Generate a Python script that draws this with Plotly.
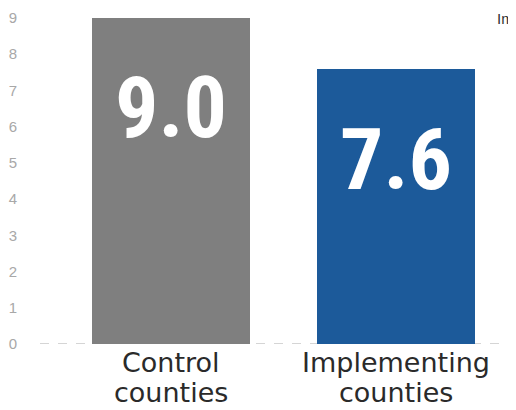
import plotly.graph_objects as go

categories = ["Control counties", "Implementing counties"]
values = [9.0, 7.6]
value_labels = ["9.0", "7.6"]
colors = ["#7f7f7f", "#1c5a9a"]
y_ticks = [0, 1, 2, 3, 4, 5, 6, 7, 8, 9]

xpos = list(range(len(categories)))
label_y = [6.52, 5.1]

fig = go.Figure()
fig.add_trace(go.Bar(
    x=xpos, y=values, width=0.70,
    marker=dict(color=colors, line=dict(width=0)),
    hoverinfo="skip",
))

for x, y, t in zip(xpos, label_y, value_labels):
    fig.add_annotation(x=x, y=y, text="<b>" + t + "</b>", showarrow=False,
                       font=dict(family="Roboto Condensed, DejaVu Sans Condensed, Liberation Sans Narrow, Arial Narrow, sans-serif",
                                 size=86, color="white"),
                       xanchor="center", yanchor="middle")

for x, cat in zip(xpos, categories):
    first, second = cat.split(" ", 1)
    for line, shift in ((first, -18), (second, -48)):
        fig.add_annotation(x=x, xref="x", y=0, yref="paper", text=line, showarrow=False,
                           xanchor="center", yanchor="middle", yshift=shift,
                           font=dict(family="DejaVu Sans", size=27, color="#2a2a2a"))

fig.add_shape(type="line", xref="paper", yref="y", x0=0, x1=1, y0=0, y1=0,
              line=dict(color="#aaaaaa", width=1, dash="dash"), layer="below")

fig.add_annotation(xref="paper", yref="paper", x=1.0, y=1.0, yshift=2, text="Im",
                   showarrow=False, xanchor="right", yanchor="top",
                   font=dict(family="Liberation Sans", size=15, color="#333333"))

fig.update_layout(
    width=508, height=402,
    margin=dict(l=32, r=0, t=2, b=66),
    paper_bgcolor="white", plot_bgcolor="white",
    showlegend=False,
    bargap=0,
    xaxis=dict(range=[-0.582, 1.533], showticklabels=False,
               showgrid=False, zeroline=False, showline=False, ticks=""),
    yaxis=dict(range=[0, 9.22], tickvals=y_ticks, showgrid=False, zeroline=False,
               showline=False, ticks="", ticklabelstandoff=22,
               tickfont=dict(family="Liberation Sans", size=15, color="#a8a8a8")),
)

fig.write_html("out.html")
